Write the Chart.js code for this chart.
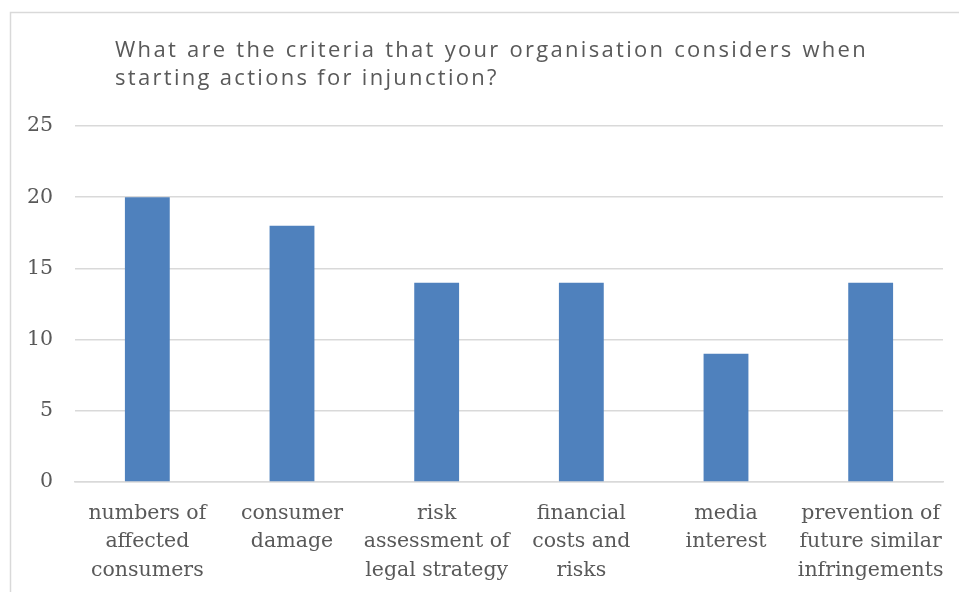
<!DOCTYPE html>
<html>
<head>
<meta charset="utf-8">
<script src="https://cdn.jsdelivr.net/npm/chart.js@4/dist/chart.umd.min.js"></script>
<style>
  html, body { margin: 0; padding: 0; background: #ffffff; }
  #wrap { width: 959px; height: 592px; }
</style>
</head>
<body>
<div id="wrap"><canvas id="c" width="959" height="592"></canvas></div>
<script>
// Survey answers: criteria considered before starting actions for injunction
const categories = [
  ["numbers of", "affected", "consumers"],
  ["consumer", "damage"],
  ["risk", "assessment of", "legal strategy"],
  ["financial", "costs and", "risks"],
  ["media", "interest"],
  ["prevention of", "future similar", "infringements"]
];
const responses = [20, 18, 14, 14, 9, 14];
const titleLines = [
  "What are the criteria that your organisation considers when",
  "starting actions for injunction?"
];

const textGray = "#595959";
const gridGray = "#d9d9d9";

// Frame plus a justified, letter-spaced title block
const frameAndTitle = {
  id: "frameAndTitle",
  beforeDraw(chart) {
    const ctx = chart.ctx;
    ctx.save();
    ctx.fillStyle = "#ffffff";
    ctx.fillRect(0, 0, chart.width, chart.height);
    ctx.strokeStyle = gridGray;
    ctx.lineWidth = 1.5;
    ctx.beginPath();
    ctx.moveTo(10.5, chart.height);
    ctx.lineTo(10.5, 12.5);
    ctx.lineTo(chart.width, 12.5);
    ctx.stroke();
    ctx.restore();
  },
  afterDraw(chart) {
    const ctx = chart.ctx;
    const left = 115, blockWidth = 753;
    ctx.save();
    ctx.fillStyle = textGray;
    ctx.font = "22px 'Open Sans'";
    ctx.letterSpacing = "2.3px";
    ctx.textBaseline = "middle";
    ctx.textAlign = "left";
    titleLines.forEach((line, i) => {
      const y = 51 + i * 28;
      if (i < titleLines.length - 1) {
        // justify all but the last line across the block width
        const words = line.split(" ");
        const used = words.reduce((s, w) => s + ctx.measureText(w).width, 0);
        const gap = (blockWidth - used) / (words.length - 1);
        let x = left;
        words.forEach(w => { ctx.fillText(w, x, y); x += ctx.measureText(w).width + gap; });
      } else {
        ctx.fillText(line, left, y);
      }
    });
    ctx.restore();
  }
};

new Chart(document.getElementById("c"), {
  type: "bar",
  data: {
    labels: categories,
    datasets: [{
      data: responses,
      backgroundColor: "#4f81bd",
      borderWidth: 0,
      barPercentage: 0.31,
      categoryPercentage: 1.0
    }]
  },
  options: {
    responsive: false,
    animation: false,
    devicePixelRatio: 1,
    layout: { padding: { left: 10, top: 126, right: 16, bottom: 0 } },
    plugins: {
      legend: { display: false },
      title: { display: false },
      tooltip: { enabled: false }
    },
    scales: {
      x: {
        grid: { display: false, drawTicks: false },
        border: { color: gridGray, width: 1.5 },
        ticks: {
          color: textGray,
          font: { family: "'DejaVu Serif', serif", size: 20.5, lineHeight: 1.39 },
          padding: 17,
          maxRotation: 0,
          autoSkip: false
        },
        afterFit(scale) {
          scale.height = 110;
          scale.paddingLeft = 0;
          scale.paddingRight = 0;
        }
      },
      y: {
        min: 0,
        max: 25,
        grid: { color: gridGray, lineWidth: 1.5, drawTicks: false },
        border: { display: false },
        ticks: {
          stepSize: 5,
          color: textGray,
          font: { family: "'DejaVu Serif', serif", size: 20.5 },
          padding: 22
        },
        afterFit(scale) { scale.width = 65; }
      }
    }
  },
  plugins: [frameAndTitle]
});
</script>
</body>
</html>
